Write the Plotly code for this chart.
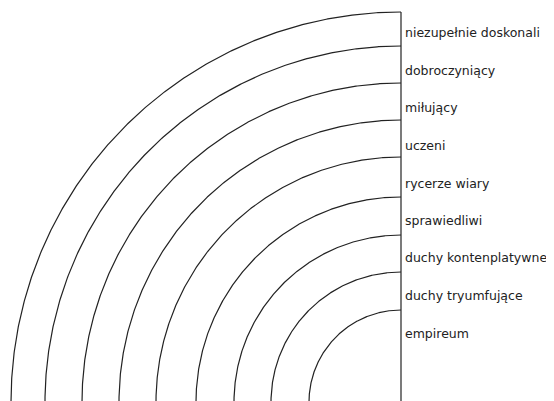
import numpy as np
import plotly.graph_objects as go

# Ring names, from outermost to innermost
labels = ["niezupełnie doskonali", "dobroczyniący", "miłujący", "uczeni",
          "rycerze wiary", "sprawiedliwi", "duchy kontenplatywne",
          "duchy tryumfujące", "empireum"]
# Outer radius of each ring (px units from the common centre)
radii = [390, 356, 319, 282, 245, 205, 167, 130, 92]
# Radial position of each label
label_r = [370, 332, 295, 257, 219, 182, 145, 107, 69]

W, H = 554, 401
OFF = 8  # page body margin
cx, cy = 401, -1  # centre in data coords (y up, 0 = bottom edge)

fig = go.Figure()
theta = np.linspace(np.pi / 2, np.pi, 400)
for r in radii:
    fig.add_trace(go.Scatter(x=cx + r * np.cos(theta), y=cy + r * np.sin(theta),
                             mode="lines", line=dict(color="#222222", width=1.2),
                             hoverinfo="skip", showlegend=False))
fig.add_trace(go.Scatter(x=[cx, cx], y=[cy, cy + max(radii)], mode="lines",
                         line=dict(color="#222222", width=1.2),
                         hoverinfo="skip", showlegend=False))

for lab, lr in zip(labels, label_r):
    fig.add_annotation(x=cx + 2.5, y=cy + lr, text=lab, showarrow=False,
                       xanchor="left", yanchor="middle", borderpad=0,
                       font=dict(family="DejaVu Sans", size=12.5, color="#222222"))

fig.update_layout(width=W - OFF, height=H - OFF, margin=dict(l=0, r=0, t=0, b=0),
                  paper_bgcolor="white", plot_bgcolor="white",
                  xaxis=dict(range=[OFF, W], visible=False, fixedrange=True),
                  yaxis=dict(range=[0, H - OFF], visible=False, fixedrange=True))
fig.write_html("out.html")
